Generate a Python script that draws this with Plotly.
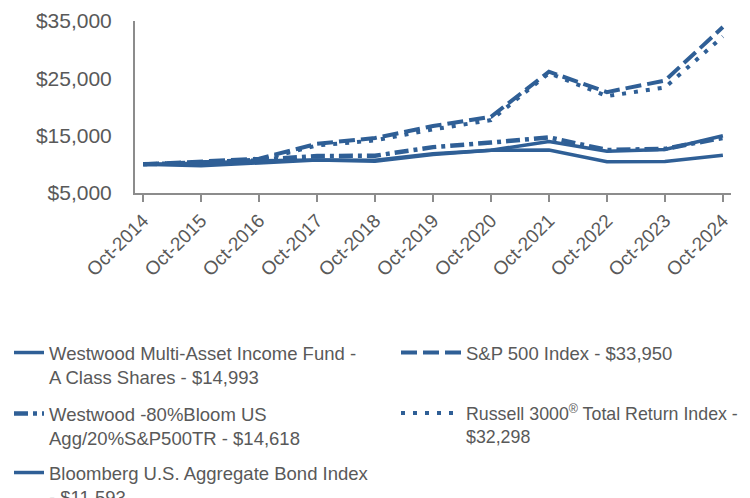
import plotly.graph_objects as go

dates = ["Oct-2014", "Oct-2015", "Oct-2016", "Oct-2017", "Oct-2018", "Oct-2019",
         "Oct-2020", "Oct-2021", "Oct-2022", "Oct-2023", "Oct-2024"]

fund = [10000, 9750, 10250, 10750, 10700, 11850, 12450, 14000, 12300, 12600, 14993]
blend = [10000, 10300, 10800, 11450, 11500, 13000, 13800, 14700, 12500, 12700, 14618]
bbg_agg = [10000, 10196, 10642, 10738, 10517, 11728, 12454, 12500, 10451, 10489, 11593]
sp500 = [10000, 10520, 10994, 13592, 14591, 16682, 18302, 26155, 22600, 24598, 33950]
russell = [10000, 10449, 10724, 13296, 14173, 16085, 17718, 25900, 21900, 23400, 32298]

names = {
    "fund": "Westwood Multi-Asset Income Fund -<br>A Class Shares - $14,993",
    "sp500": "S&P 500 Index - $33,950",
    "blend": "Westwood -80%Bloom US<br>Agg/20%S&P500TR - $14,618",
    "russell": "Russell 3000<sup>®</sup> Total Return Index -<br>$32,298",
    "bbg": "Bloomberg U.S. Aggregate Bond Index<br>- $11,593",
}

COLOR = "#2F5F96"
GREY = "#595959"
AXIS = "#8C8C8C"
FIG_W, FIG_H = 742, 490  # page body has an 8px margin

fig = go.Figure()
fig.add_trace(go.Scatter(x=dates, y=fund, name=names["fund"], mode="lines", legend="legend",
                         line=dict(color=COLOR, width=3.5)))
fig.add_trace(go.Scatter(x=dates, y=sp500, name=names["sp500"], mode="lines", legend="legend2",
                         line=dict(color=COLOR, width=4, dash="16px,6px")))
fig.add_trace(go.Scatter(x=dates, y=blend, name=names["blend"], mode="lines", legend="legend3",
                         line=dict(color=COLOR, width=4.5, dash="14px,5px,4px,5px")))
fig.add_trace(go.Scatter(x=dates, y=russell, name=names["russell"], mode="lines", legend="legend4",
                         line=dict(color=COLOR, width=4, dash="4px,8px")))
fig.add_trace(go.Scatter(x=dates, y=bbg_agg, name=names["bbg"], mode="lines", legend="legend5",
                         line=dict(color=COLOR, width=3.5)))

def leg(x_px, top_px, itemwidth, size=18.5):
    return dict(
        orientation="v", xref="container", yref="container",
        x=x_px / FIG_W, y=1 - top_px / FIG_H, xanchor="left", yanchor="top",
        font=dict(size=size, color=GREY), itemwidth=itemwidth, valign="top",
        bgcolor="rgba(0,0,0,0)", borderwidth=0,
    )

ROW1, ROW2, ROW3 = 326, 387, 446
COL1, COL2 = 1, 388

fig.update_layout(
    width=FIG_W, height=FIG_H,
    margin=dict(l=127, r=19, t=13, b=305, autoexpand=False),
    paper_bgcolor="white", plot_bgcolor="white",
    font=dict(family="Liberation Sans, Arial, sans-serif", color=GREY, size=16),
    showlegend=True,
    legend=leg(COL1, ROW1, 30),
    legend2=leg(COL2, ROW1, 60),
    legend3=leg(COL1, ROW2, 30),
    legend4=leg(COL2, ROW2, 60, 17.8),
    legend5=leg(COL1, ROW3, 30),
)
fig.update_xaxes(
    type="category", range=[-0.14, 10.14],
    showline=True, linecolor=AXIS, linewidth=2,
    ticks="outside", ticklen=7, tickcolor=AXIS, tickwidth=2,
    tickangle=-45, tickfont=dict(size=19, color=GREY),
    showgrid=False, zeroline=False, automargin=False,
)
fig.update_yaxes(
    range=[5000, 35000], tickvals=[5000, 15000, 25000, 35000],
    ticktext=["$5,000", "$15,000", "$25,000", "$35,000"],
    showline=True, linecolor=AXIS, linewidth=2,
    ticks="", tickfont=dict(size=21, color=GREY),
    showgrid=False, zeroline=False, automargin=False, ticklabelstandoff=17,
)

fig.write_html("out.html")
